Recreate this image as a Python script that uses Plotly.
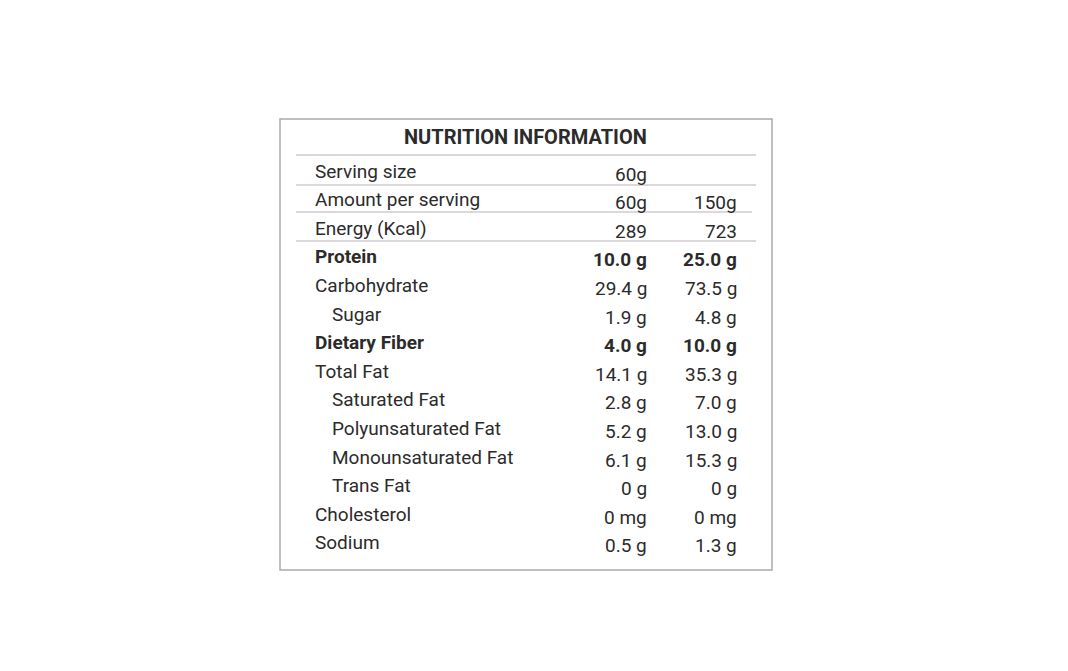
import plotly.graph_objects as go

title = "NUTRITION INFORMATION"
labels = ["Serving size", "Amount per serving", "Energy (Kcal)", "Protein", "Carbohydrate",
          "Sugar", "Dietary Fiber", "Total Fat", "Saturated Fat", "Polyunsaturated Fat",
          "Monounsaturated Fat", "Trans Fat", "Cholesterol", "Sodium"]
per_60 = ["60g", "60g", "289", "10.0 g", "29.4 g", "1.9 g", "4.0 g", "14.1 g", "2.8 g",
          "5.2 g", "6.1 g", "0 g", "0 mg", "0.5 g"]
per_150 = ["", "150g", "723", "25.0 g", "73.5 g", "4.8 g", "10.0 g", "35.3 g", "7.0 g",
           "13.0 g", "15.3 g", "0 g", "0 mg", "1.3 g"]
bold_rows = ["Protein", "Dietary Fiber"]
indented = ["Sugar", "Saturated Fat", "Polyunsaturated Fat", "Monounsaturated Fat", "Trans Fat"]

FONT = "Liberation Sans Narrow, Roboto, Arial"
COLOR = "#2b2b2b"
OFF = 8  # page body margin

fig = go.Figure()
ann = []
ann.append(dict(x=525 - OFF, y=137 - OFF, text=f"<b>{title}</b>", showarrow=False,
                font=dict(size=20, color=COLOR, family=FONT)))

for i, lab in enumerate(labels):
    y = 173 + i * 28.6 - OFF
    b = lab in bold_rows
    fmt = (lambda s: f"<b>{s}</b>") if b else (lambda s: s)
    x0 = (330 if lab in indented else 313) - OFF
    ann.append(dict(x=x0, y=y - 2, text=fmt(lab), xanchor="left", showarrow=False,
                    font=dict(size=19, color=COLOR, family=FONT)))
    ann.append(dict(x=649 - OFF, y=y + 1, text=fmt(per_60[i]), xanchor="right", showarrow=False,
                    font=dict(size=19, color=COLOR, family=FONT)))
    if per_150[i]:
        ann.append(dict(x=739 - OFF, y=y + 1, text=fmt(per_150[i]), xanchor="right", showarrow=False,
                        font=dict(size=19, color=COLOR, family=FONT)))

shapes = [dict(type="rect", x0=280 - OFF, x1=772 - OFF, y0=119 - OFF, y1=570 - OFF,
               line=dict(color="#aaaaaa", width=1.5))]
for y, x1 in [(155, 756), (185, 756), (212, 752), (241, 756)]:
    shapes.append(dict(type="line", x0=296 - OFF, x1=x1 - OFF, y0=y - OFF, y1=y - OFF,
                       line=dict(color="#b8b0b8", width=1.2)))

fig.update_layout(
    width=1068, height=671, margin=dict(l=0, r=0, t=0, b=0),
    paper_bgcolor="white", plot_bgcolor="white",
    xaxis=dict(range=[0, 1068], visible=False, fixedrange=True),
    yaxis=dict(range=[671, 0], visible=False, fixedrange=True),
    annotations=ann, shapes=shapes, showlegend=False,
)
fig.write_html("out.html")
